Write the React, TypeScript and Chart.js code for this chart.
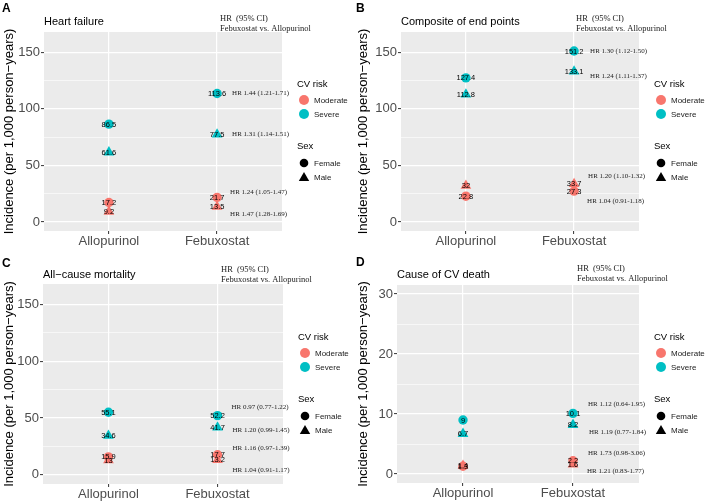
import React, { useEffect, useRef } from "react";
import { Chart, registerables } from "chart.js";

Chart.register(...registerables);

// ---------- data ----------
const drugs = ["Allopurinol", "Febuxostat"];
const riskLevels = ["Moderate", "Severe"];
const sexes = ["Female", "Male"];

// A: Heart failure
const hfModerateFemale = [17.2, 21.7];
const hfModerateMale = [9.2, 13.5];
const hfSevereFemale = [86.5, 113.6];
const hfSevereMale = [61.6, 77.5];
const hfHR = ["HR 1.44 (1.21-1.71)", "HR 1.31 (1.14-1.51)", "HR 1.24 (1.05-1.47)", "HR 1.47 (1.28-1.69)"];

// B: Composite of end points
const ceModerateFemale = [22.8, 27.3];
const ceModerateMale = [32, 33.7];
const ceSevereFemale = [127.4, 151.2];
const ceSevereMale = [112.8, 133.1];
const ceHR = ["HR 1.30 (1.12-1.50)", "HR 1.24 (1.11-1.37)", "HR 1.20 (1.10-1.32)", "HR 1.04 (0.91-1.18)"];

// C: All-cause mortality
const acModerateFemale = [15.9, 17.7];
const acModerateMale = [13, 13.2];
const acSevereFemale = [55.1, 52.2];
const acSevereMale = [34.6, 41.7];
const acHR = ["HR 0.97 (0.77-1.22)", "HR 1.20 (0.99-1.45)", "HR 1.16 (0.97-1.39)", "HR 1.04 (0.91-1.17)"];

// D: Cause of CV death
const cvModerateFemale = [1.3, 2.2];
const cvModerateMale = [1.4, 1.6];
const cvSevereFemale = [9, 10.1];
const cvSevereMale = [6.7, 8.2];
const cvHR = ["HR 1.12 (0.64-1.95)", "HR 1.19 (0.77-1.84)", "HR 1.73 (0.98-3.06)", "HR 1.21 (0.83-1.77)"];

const majorTicksLarge = [0, 50, 100, 150];
const minorTicksLarge = [25, 75, 125];
const majorTicksSmall = [0, 10, 20, 30];
const minorTicksSmall = [5, 15, 25];

const yTitle = "Incidence (per 1,000 person\u2212years)";
const hrHeader1 = "HR  (95% CI)";
const hrHeader2 = "Febuxostat vs. Allopurinol";

// ---------- styles ----------
const SANS = "'Liberation Sans', Arial, Helvetica, sans-serif";
const SERIF = "'Liberation Serif', 'Times New Roman', serif";
const RED = "#F8766D";
const TEAL = "#00BFC4";
const PANEL_W = 354;
const PANEL_H = 251;

type Panel = {
  ox: number; oy: number; letter: string; title: string;
  series: number[][]; hr: string[]; anchors: number[];
  hrDx: number[]; hrDy: number[];
  major: number[]; minor: number[]; yMin: number; yMax: number;
  left: number; right: number; top: number; bottom: number;
  letterY: number; titleY: number; headerX: number; headerY: number; legendDy: number;
};

// dataset order: Moderate Female, Moderate Male, Severe Female, Severe Male
const panels: Panel[] = [
  {
    ox: 0, oy: 0, letter: "A", title: "Heart failure",
    series: [hfModerateFemale, hfModerateMale, hfSevereFemale, hfSevereMale], hr: hfHR,
    anchors: [2, 3, 0, 1], hrDx: [15, 15, 13, 13], hrDy: [0, 0, -5, 7],
    major: majorTicksLarge, minor: minorTicksLarge, yMin: -8, yMax: 168,
    left: 44, right: 282, top: 32, bottom: 231,
    letterY: 8.5, titleY: 22, headerX: 220, headerY: 19, legendDy: 52,
  },
  {
    ox: 354, oy: 0, letter: "B", title: "Composite of end points",
    series: [ceModerateFemale, ceModerateMale, ceSevereFemale, ceSevereMale], hr: ceHR,
    anchors: [2, 3, 1, 0], hrDx: [16, 16, 14, 13], hrDy: [0, 5, -8, 10],
    major: majorTicksLarge, minor: minorTicksLarge, yMin: -8, yMax: 168,
    left: 47, right: 285, top: 32, bottom: 231,
    letterY: 8.5, titleY: 21.7, headerX: 222, headerY: 18.7, legendDy: 52,
  },
  {
    ox: 0, oy: 251, letter: "C", title: "All\u2212cause mortality",
    series: [acModerateFemale, acModerateMale, acSevereFemale, acSevereMale], hr: acHR,
    anchors: [2, 3, 0, 1], hrDx: [14, 15, 15, 15], hrDy: [-8, 3, -7, 10],
    major: majorTicksLarge, minor: minorTicksLarge, yMin: -8, yMax: 168,
    left: 43, right: 283, top: 33, bottom: 233,
    letterY: 12.5, titleY: 24, headerX: 221, headerY: 19, legendDy: 53,
  },
  {
    ox: 354, oy: 251, letter: "D", title: "Cause of CV death",
    series: [cvModerateFemale, cvModerateMale, cvSevereFemale, cvSevereMale], hr: cvHR,
    anchors: [2, 3, 0, 1], hrDx: [15, 16, 15, 14], hrDy: [-9, 7.5, -7.5, 7],
    major: majorTicksSmall, minor: minorTicksSmall, yMin: -1.5, yMax: 31.5,
    left: 43, right: 285, top: 34, bottom: 232,
    letterY: 11.5, titleY: 24, headerX: 223, headerY: 17.3, legendDy: 52,
  },
];

function fmt(v: number) {
  return String(v);
}

function drawTriangle(ctx: CanvasRenderingContext2D, x: number, y: number, r: number) {
  ctx.beginPath();
  ctx.moveTo(x, y - r);
  ctx.lineTo(x + r * Math.sin(Math.PI / 3), y + r / 2);
  ctx.lineTo(x - r * Math.sin(Math.PI / 3), y + r / 2);
  ctx.closePath();
  ctx.fill();
}

function PanelChart({ p }: { p: Panel }) {
  const ref = useRef<HTMLCanvasElement | null>(null);
  useEffect(() => {
    if (!ref.current) return;
    const colors = [RED, RED, TEAL, TEAL];
    const shapes = ["circle", "triangle", "circle", "triangle"];
    const labels = [
      `${riskLevels[0]} ${sexes[0]}`, `${riskLevels[0]} ${sexes[1]}`,
      `${riskLevels[1]} ${sexes[0]}`, `${riskLevels[1]} ${sexes[1]}`,
    ];
    const datasets = p.series.map((vals, i) => ({
      label: labels[i],
      data: vals.map((v, j) => ({ x: j + 1, y: v })),
      pointStyle: shapes[i] as any,
      pointRadius: shapes[i] === "circle" ? 4.7 : 6.2,
      pointHoverRadius: shapes[i] === "circle" ? 4.7 : 6.2,
      backgroundColor: colors[i],
      borderWidth: 0,
      showLine: false,
    }));

    const allY = [...p.major, ...p.minor].sort((a, b) => a - b);

    const decor = {
      id: "decor",
      beforeDraw(chart: any) {
        const { ctx, chartArea: a } = chart;
        ctx.save();
        ctx.fillStyle = "#FFFFFF";
        ctx.fillRect(0, 0, chart.width, chart.height);
        ctx.fillStyle = "#EBEBEB";
        ctx.fillRect(a.left, a.top, a.right - a.left, a.bottom - a.top);
        ctx.restore();
      },
      afterDatasetsDraw(chart: any) {
        const { ctx } = chart;
        ctx.save();
        // value labels
        ctx.fillStyle = "#000000";
        ctx.font = `7.5px ${SANS}`;
        ctx.textAlign = "center";
        ctx.textBaseline = "middle";
        chart.data.datasets.forEach((ds: any, i: number) => {
          const meta = chart.getDatasetMeta(i);
          meta.data.forEach((el: any, j: number) => {
            ctx.fillText(fmt(ds.data[j].y), el.x, el.y + 0.5);
          });
        });
        // HR labels
        ctx.fillStyle = "#222222";
        ctx.font = `7px ${SERIF}`;
        ctx.textAlign = "left";
        p.hr.forEach((txt, k) => {
          const el = chart.getDatasetMeta(p.anchors[k]).data[1];
          ctx.fillText(txt, el.x + p.hrDx[k], el.y + p.hrDy[k]);
        });
        ctx.restore();
      },
      afterDraw(chart: any) {
        const { ctx, chartArea: a } = chart;
        ctx.save();
        ctx.textBaseline = "middle";
        ctx.textAlign = "left";
        // panel letter
        ctx.fillStyle = "#000000";
        ctx.font = `bold 12px ${SANS}`;
        ctx.fillText(p.letter, 2, p.letterY);
        // title
        ctx.font = `11px ${SANS}`;
        ctx.fillText(p.title, a.left, p.titleY);
        // header
        ctx.font = `8.5px ${SERIF}`;
        ctx.fillStyle = "#222222";
        ctx.fillText(hrHeader1, p.headerX, p.headerY);
        ctx.fillText(hrHeader2, p.headerX, p.headerY + 10);
        // legend
        const lx = a.right + 15;
        const kx = a.right + 22;
        const tx = a.right + 32;
        const ty = a.top + p.legendDy;
        ctx.fillStyle = "#000000";
        ctx.font = `9.5px ${SANS}`;
        ctx.fillText("CV risk", lx, ty);
        ctx.fillText("Sex", lx, ty + 62);
        ctx.font = `8px ${SANS}`;
        const rows = [
          { y: ty + 16, label: riskLevels[0], color: RED, shape: "circle", r: 5 },
          { y: ty + 30, label: riskLevels[1], color: TEAL, shape: "circle", r: 5 },
          { y: ty + 79, label: sexes[0], color: "#000000", shape: "circle", r: 4.3 },
          { y: ty + 93, label: sexes[1], color: "#000000", shape: "triangle", r: 6 },
        ];
        rows.forEach((r) => {
          ctx.fillStyle = r.color;
          if (r.shape === "circle") {
            ctx.beginPath();
            ctx.arc(kx, r.y, r.r, 0, Math.PI * 2);
            ctx.fill();
          } else {
            drawTriangle(ctx, kx, r.y + 1, r.r);
          }
          ctx.fillStyle = "#1A1A1A";
          ctx.fillText(r.label, tx, r.y + 0.5);
        });
        ctx.restore();
      },
    };

    const chart = new Chart(ref.current, {
      type: "scatter",
      data: { datasets },
      options: {
        animation: false,
        responsive: false,
        maintainAspectRatio: false,
        events: [],
        layout: { padding: { left: 0, top: p.top, right: PANEL_W - p.right, bottom: 0 } },
        plugins: { legend: { display: false }, tooltip: { enabled: false }, title: { display: false } },
        scales: {
          x: {
            type: "linear",
            min: 0.4,
            max: 2.6,
            afterBuildTicks: (s: any) => {
              s.ticks = drugs.map((_, i) => ({ value: i + 1 }));
            },
            afterFit: (s: any) => {
              s.height = PANEL_H - p.bottom;
            },
            ticks: {
              autoSkip: false,
              maxRotation: 0,
              padding: 0,
              color: "#4D4D4D",
              font: { family: SANS, size: 13 },
              callback: (v: any) => drugs[Math.round(Number(v)) - 1] ?? "",
            },
            grid: { color: "#FFFFFF", lineWidth: 1.2, tickLength: 3, tickColor: "#333333", tickWidth: 1 },
            border: { display: false },
          },
          y: {
            type: "linear",
            min: p.yMin,
            max: p.yMax,
            afterBuildTicks: (s: any) => {
              s.ticks = allY.map((v) => ({ value: v }));
            },
            afterFit: (s: any) => {
              s.width = p.left;
            },
            ticks: {
              autoSkip: false,
              padding: 1,
              color: "#4D4D4D",
              font: { family: SANS, size: 13 },
              callback: (v: any) => (p.major.includes(Number(v)) ? String(v) : ""),
            },
            grid: {
              color: "#FFFFFF",
              lineWidth: (c: any) => (c.tick && p.major.includes(c.tick.value) ? 1.2 : 0.6),
              tickLength: 3,
              tickWidth: 1,
              tickColor: (c: any) => (c.tick && p.major.includes(c.tick.value) ? "#333333" : "rgba(0,0,0,0)"),
            },
            border: { display: false },
            title: {
              display: true,
              text: yTitle,
              color: "#000000",
              font: { family: SANS, size: 13 },
              padding: { top: 2, bottom: 0 },
            },
          },
        },
      },
      plugins: [decor],
    } as any);
    return () => chart.destroy();
  }, [p]);
  return (
    <canvas
      ref={ref}
      width={PANEL_W}
      height={PANEL_H}
      style={{ position: "absolute", left: p.ox, top: p.oy, width: PANEL_W, height: PANEL_H }}
    />
  );
}

export default function App() {
  return (
    <div style={{ position: "fixed", left: 0, top: 0, width: 708, height: 502, background: "#FFFFFF" }}>
      {panels.map((p) => (
        <PanelChart key={p.letter} p={p} />
      ))}
    </div>
  );
}
